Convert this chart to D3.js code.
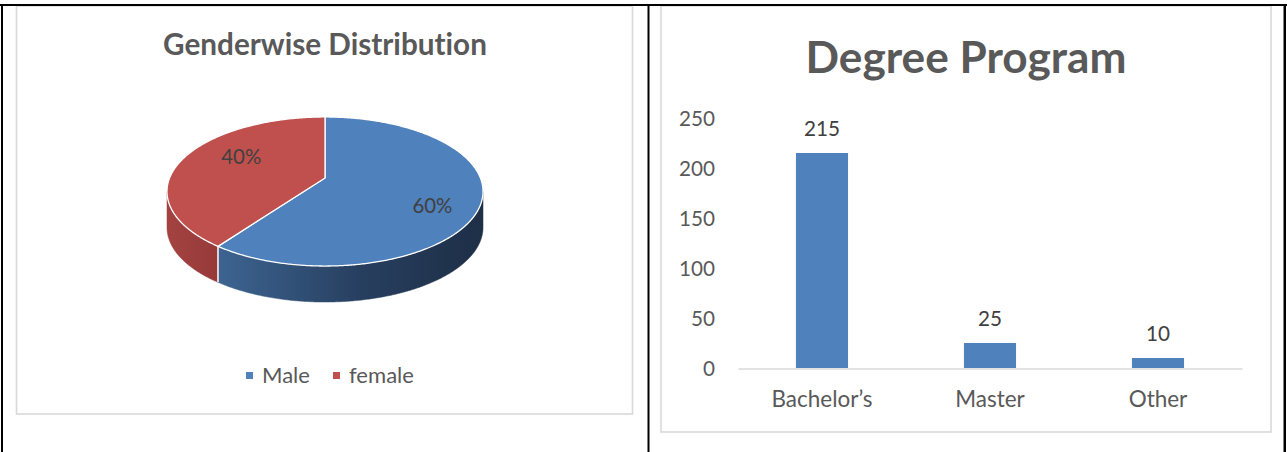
<!DOCTYPE html>
<html><head><meta charset="utf-8">
<script src="https://cdn.jsdelivr.net/npm/d3@7"></script>
<style>body{margin:0;background:#fff}svg{display:block}text{font-variant-ligatures:none;font-feature-settings:"liga" 0}</style>
</head><body>
<script>
// ---- data ----
const genderTitle = "Genderwise Distribution";
const genderLabels = ["Male", "female"];
const genderValues = [60, 40];
const genderColors = ["#4f81bd", "#c0504d"];

const degreeTitle = "Degree Program";
const degreeCategories = ["Bachelor’s", "Master", "Other"];
const degreeValues = [215, 25, 10];
const degreeTicks = [0, 50, 100, 150, 200, 250];
const barColor = "#4f81bd";

// ---- setup ----
const W = 1287, H = 452;
const FONT = "Lato, 'Open Sans', sans-serif";
const TXT = "#595959";
const svg = d3.select("body").append("svg").attr("width", W).attr("height", H);

function fitSize(text, weight, target) {
  const t = svg.append("text").attr("font-family", FONT).attr("font-weight", weight)
    .attr("font-size", 100).text(text);
  const w = t.node().getComputedTextLength();
  t.remove();
  return 100 * target / w;
}

// frames
const frame = svg.append("g");
frame.append("rect").attr("x", 16.5).attr("y", 6).attr("width", 616).attr("height", 408)
  .attr("fill", "none").attr("stroke", "#d9d9d9").attr("stroke-width", 1.6);
frame.append("rect").attr("x", 661).attr("y", 6).attr("width", 610).attr("height", 426)
  .attr("fill", "none").attr("stroke", "#d9d9d9").attr("stroke-width", 1.6);
frame.append("rect").attr("x", 0).attr("y", 4).attr("width", W).attr("height", 2).attr("fill", "#000");
frame.append("rect").attr("x", 1).attr("y", 4).attr("width", 2).attr("height", H).attr("fill", "#000");
frame.append("rect").attr("x", 647.5).attr("y", 4).attr("width", 2).attr("height", H).attr("fill", "#000");
frame.append("rect").attr("x", 1283.5).attr("y", 4).attr("width", 2.5).attr("height", H).attr("fill", "#000");

// ---- LEFT: 3D pie ----
const left = svg.append("g");
left.append("text").attr("x", 325).attr("y", 55).attr("text-anchor", "middle")
  .attr("font-family", FONT).attr("font-weight", 700)
  .attr("font-size", fitSize(genderTitle, 700, 324)).attr("fill", TXT).text(genderTitle);

const cx = 325, cy = 178, A = 155.4, B = 72.1, K = 0.181, DEPTH = 36;
function proj(a, r = 1) {
  const u = Math.sin(a) * r, v = -Math.cos(a) * r, s = 1 / (1 - K * v);
  return [cx + A * u * s, cy + B * v * s];
}
function rim(a0, a1, r = 1, dy = 0) {
  const n = Math.max(2, Math.ceil(Math.abs(a1 - a0) / (Math.PI / 360)));
  return d3.range(n + 1).map(i => {
    const p = proj(a0 + (a1 - a0) * i / n, r);
    return [p[0], p[1] + dy];
  });
}
const line = d3.line();
const arcs = d3.pie().sort(null).startAngle(0).endAngle(2 * Math.PI)(genderValues);

const defs = svg.append("defs");
const gB = defs.append("linearGradient").attr("id", "sideBlue").attr("gradientUnits", "userSpaceOnUse")
  .attr("x1", 215).attr("x2", 480).attr("y1", 0).attr("y2", 0);
gB.append("stop").attr("offset", 0).attr("stop-color", "#3d6592");
gB.append("stop").attr("offset", 0.55).attr("stop-color", "#273f5f");
gB.append("stop").attr("offset", 1).attr("stop-color", "#1e2f47");
const gR = defs.append("linearGradient").attr("id", "sideRed").attr("gradientUnits", "userSpaceOnUse")
  .attr("x1", 167).attr("x2", 220).attr("y1", 0).attr("y2", 0);
gR.append("stop").attr("offset", 0).attr("stop-color", "#a34341");
gR.append("stop").attr("offset", 1).attr("stop-color", "#953938");
const sideFill = ["url(#sideBlue)", "url(#sideRed)"];

const aR = Math.acos(-K), aL = 2 * Math.PI - aR;
arcs.forEach((d, i) => {
  const s0 = Math.max(d.startAngle, aR), s1 = Math.min(d.endAngle, aL);
  if (s0 < s1) {
    const pts = rim(s0, s1).concat(rim(s1, s0, 1, DEPTH));
    left.append("path").attr("d", line(pts) + "Z").attr("fill", sideFill[i])
      .attr("stroke", sideFill[i]).attr("stroke-width", 0.5);
  }
});
arcs.forEach(d => {
  const a = d.startAngle;
  if (a > aR && a < aL) {
    const p = proj(a);
    left.append("line").attr("x1", p[0]).attr("y1", p[1]).attr("x2", p[0]).attr("y2", p[1] + DEPTH)
      .attr("stroke", "#fff").attr("stroke-width", 1.5);
  }
});
arcs.forEach((d, i) => {
  const pts = [[cx, cy]].concat(rim(d.startAngle, d.endAngle));
  left.append("path").attr("d", line(pts) + "Z").attr("fill", genderColors[i])
    .attr("stroke", "#fff").attr("stroke-width", 1.3).attr("stroke-linejoin", "round");
});
const total = d3.sum(genderValues);
const labSize = fitSize("40%", 400, 40);
arcs.forEach(d => {
  const mid = (d.startAngle + d.endAngle) / 2 + 0.19;
  const p = proj(mid, 0.7);
  left.append("text").attr("x", p[0] + 6).attr("y", p[1] + 2).attr("dy", "0.36em")
    .attr("text-anchor", "middle").attr("font-family", FONT).attr("font-size", labSize)
    .attr("fill", "#404040").text(Math.round(d.value / total * 100) + "%");
});
// legend
const legSize = fitSize("Male", 400, 48);
let lx = 246;
genderLabels.forEach((name, i) => {
  left.append("rect").attr("x", lx).attr("y", 372).attr("width", 7).attr("height", 7).attr("fill", genderColors[i]);
  const t = left.append("text").attr("x", lx + 16).attr("y", 383).attr("font-family", FONT)
    .attr("font-size", legSize).attr("fill", TXT).text(name);
  lx += 16 + t.node().getComputedTextLength() + 23;
});

// ---- RIGHT: bar chart ----
const right = svg.append("g");
right.append("text").attr("x", 966).attr("y", 73).attr("text-anchor", "middle")
  .attr("font-family", FONT).attr("font-weight", 700)
  .attr("font-size", fitSize(degreeTitle, 700, 321)).attr("fill", TXT).text(degreeTitle);

const x = d3.scaleBand().domain(degreeCategories).range([738, 1242]).paddingInner(0.69).paddingOuter(0.345);
const y = d3.scaleLinear().domain([0, 250]).range([368, 118]);
const tickSize = fitSize("250", 400, 36);

const yAxis = right.append("g").attr("transform", "translate(715,0)")
  .call(d3.axisLeft(y).tickValues(degreeTicks).tickSize(0).tickPadding(0));
yAxis.select(".domain").remove();
yAxis.selectAll("text").attr("font-family", FONT).attr("font-size", tickSize).attr("fill", TXT).attr("dy", "0.36em");

right.selectAll("rect.bar").data(degreeValues).join("rect").attr("class", "bar")
  .attr("x", (d, i) => x(degreeCategories[i])).attr("width", x.bandwidth())
  .attr("y", d => y(d)).attr("height", d => y(0) - y(d)).attr("fill", barColor);

const xAxis = right.append("g").attr("transform", "translate(0,368.5)")
  .call(d3.axisBottom(x).tickSize(0).tickSizeOuter(0));
xAxis.select(".domain").attr("stroke", "#d9d9d9").attr("stroke-width", 1.6);
xAxis.selectAll("text").attr("font-family", FONT).attr("font-size", fitSize("Bachelor’s", 400, 101))
  .attr("fill", TXT).attr("y", 38.5).attr("dy", 0);

right.selectAll("text.val").data(degreeValues).join("text").attr("class", "val")
  .attr("x", (d, i) => x(degreeCategories[i]) + x.bandwidth() / 2).attr("y", d => y(d) - 17)
  .attr("text-anchor", "middle").attr("font-family", FONT).attr("font-size", tickSize)
  .attr("fill", "#404040").text(d => d);
</script>
</body></html>
